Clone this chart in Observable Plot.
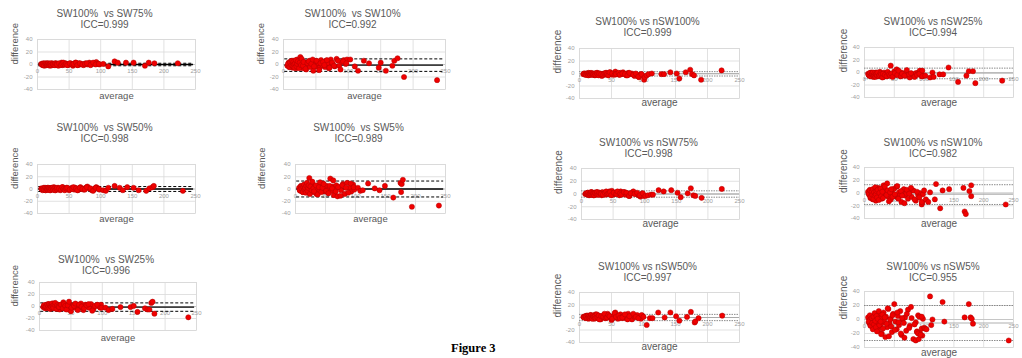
<!DOCTYPE html>
<html><head><meta charset="utf-8">
<script src="https://cdn.jsdelivr.net/npm/d3@7"></script>
<script src="https://cdn.jsdelivr.net/npm/@observablehq/plot@0.6"></script>
<style>
body{margin:0;background:#fff;overflow:hidden;}
#fig{position:relative;width:1022px;height:358px;overflow:hidden;background:#fff;font-family:"Liberation Sans",Arial,sans-serif;}
.panel{position:absolute;}
.panel svg{max-width:none !important;}
#caption{position:absolute;left:451px;top:341px;font:bold 12.5px "Liberation Serif","DejaVu Serif",serif;color:#000;}
</style></head><body><div id="fig"></div><div id="caption" style="position:absolute"></div>
<script>
// ---- shared tick labels ----
const xTicks = [0, 50, 100, 150, 200, 250];
const yTicks = [-40, -20, 0, 20, 40];

// ---- average values of the dense cluster (shared subjects) ----
const clusterAvg = [6,8,9,10,11,12,13,14,15,16,17,18,19,20,21,22,23,24,25,26,28,29,30,32,33,35,36,38,40,42,44,46,48,50,52,54,56,58,60,62,64,66,68,70,73,76,79,82,86,90,93,96,98];
const clusterAvg2 = [7,9,10,12,13,14,15,16,17,18,19,20,21,22,24,25,27,28,30,31,34,37,39,41,43,45,47,51,55,57,61,63,67,71,75,78,84,88,92,97];

// ---- titles ----
const titles = ["SW100%\u00a0 vs SW75%","SW100%\u00a0 vs SW10%","SW100%\u00a0 vs SW50%","SW100%\u00a0 vs SW5%","SW100%\u00a0 vs SW25%",
  "SW100% vs nSW100%","SW100% vs nSW25%","SW100% vs nSW75%","SW100% vs nSW10%","SW100% vs nSW50%","SW100% vs nSW5%"];
const iccs = ["ICC=0.999","ICC=0.992","ICC=0.998","ICC=0.989","ICC=0.996","ICC=0.999","ICC=0.994","ICC=0.998","ICC=0.982","ICC=0.997","ICC=0.955"];

// ---- differences of the cluster, per comparison ----
const sw75Cluster = [1,-1,2,0,-2,1,0,-1,2,1,-1,0,1,-2,0,1,2,-1,0,1,-1,2,0,1,-2,0,1,3,-1,0,2,1,-1,0,2,1,-2,0,3,1,-1,2,0,1,-1,2,0,3,1,2,4,1,0];
const sw10Cluster = [-2,3,-4,1,5,-3,2,-5,6,0,-2,4,-6,3,8,-1,2,-4,5,12,-3,1,-6,4,2,-8,3,0,6,-2,4,-10,1,-3,5,2,-5,7,-1,3,-4,6,2,-6,8,1,-3,9,-2,4,7,1,8];
const sw50Cluster = [1,-2,0,2,-1,1,-2,0,1,2,-1,0,1,-2,1,2,0,-1,1,3,-2,0,1,-1,2,0,-2,1,3,0,-1,2,1,-2,0,2,1,-1,2,0,-2,1,3,0,-1,2,4,1,-2,0,3,1,-1];
const sw5Cluster = [2,-3,5,-1,4,-5,1,3,-2,6,0,-4,8,2,-6,3,18,-2,5,-3,1,7,-5,2,4,-8,0,6,-3,3,-1,9,-4,2,5,-6,1,17,-3,4,-10,2,6,-12,3,-2,8,-8,10,2,-4,7,-1];
const sw25Cluster = [-1,2,-3,1,3,-2,0,4,-1,2,-4,1,3,-2,5,0,-3,2,-1,4,-2,1,3,-5,0,2,-3,7,1,-4,2,-1,3,-8,0,2,-2,4,1,-3,2,5,-1,-6,3,0,-2,4,-4,1,2,-1,3];
const nsw100Cluster = [-1,0,-2,-1,0,-2,-1,1,-1,0,-2,-1,0,-1,-2,0,-1,-3,0,-1,1,-2,-1,0,-2,-4,-1,0,-2,1,-1,0,2,-1,-2,0,3,-1,0,-2,1,-1,2,0,-3,1,-1,0,-4,-2,-6,-1,-3];
const nsw25Cluster = [-2,-5,-1,-4,0,-6,-3,-2,-7,-1,-4,-3,0,-5,-2,-6,-1,-3,-4,1,-5,-2,-3,-7,0,-4,-2,-6,-1,-3,11,-5,-2,2,-4,5,-1,-3,-6,0,-2,-4,-1,-5,-3,-8,-2,-4,-1,0,3,-6,-5];
const nsw75Cluster = [0,1,-1,2,0,-2,1,0,-1,3,0,1,-2,2,0,-1,1,3,0,-1,2,0,1,-2,3,0,1,-1,2,0,4,1,5,-1,2,0,3,1,-2,4,0,2,3,-1,1,-3,2,4,0,-2,-4,1,-3];
const nsw10Cluster = [2,-3,5,-8,0,-4,3,-10,-2,1,-6,4,-12,-1,2,-5,8,-3,0,-7,3,-9,-2,12,5,-1,-4,15,-6,2,-10,4,-2,7,-5,10,-8,1,-3,-14,3,6,-4,-1,-9,2,-6,4,-12,-3,0,-18,-2];
const nsw50Cluster = [1,0,2,-1,3,0,1,-2,2,0,4,1,-1,2,0,3,-2,1,5,0,2,-1,3,1,-3,0,2,4,-1,1,6,0,2,-4,1,3,8,0,-2,2,5,1,-1,3,0,6,2,-3,1,4,0,-2,3];
const nsw5Cluster = [3,-5,0,-8,4,-2,-10,1,-6,5,-3,-12,2,-7,8,-4,-15,0,6,-9,3,-20,-5,10,-2,-25,4,-11,15,-6,1,-18,8,22,-3,-14,5,-8,12,-22,0,-5,3,-16,14,-9,2,-28,-4,6,-19,-13,1];

// ---- differences of the second cluster group (at clusterAvg2) ----
const sw75Cluster2 = [0,1,-1,2,0,1,-1,0,2,-1,1,0,2,-1,1,0,-1,2,1,0,2,-1,1,3,0,1,-1,2,0,1,3,-1,2,0,1,2,-1,3,0,1];
const sw10Cluster2 = [1,-4,3,-1,6,-2,4,0,-5,2,7,-3,1,5,-6,3,-1,9,-2,4,-7,2,5,-4,1,8,-3,6,-9,2,4,-1,7,-5,3,-2,6,-8,5,2];
const sw50Cluster2 = [0,1,-1,2,-2,1,0,-1,2,0,1,-2,1,0,2,-1,1,-2,0,2,1,-1,3,0,-2,1,2,-1,0,3,1,-2,2,0,-1,3,1,-3,2,0];
const sw5Cluster2 = [-2,4,1,-5,3,7,-1,2,-6,5,10,-3,2,6,-8,4,-2,12,1,-4,6,-9,3,11,-5,2,8,-3,-7,5,1,14,-4,3,-11,6,2,-6,9,3];
const sw25Cluster2 = [2,-1,0,3,-2,1,4,-3,2,0,-1,5,1,-2,3,6,-4,2,0,-1,3,-3,4,1,-5,2,8,-2,1,5,-6,3,0,-3,2,4,-7,1,3,-2];
const nsw100Cluster2 = [0,-1,-2,0,-1,-3,0,-1,-2,1,-1,0,-2,-1,0,-2,1,-1,-3,0,-1,-2,0,1,-1,-3,2,0,-2,-1,1,-2,0,-1,-3,1,-2,0,-5,-1];
const nsw25Cluster2 = [-4,-1,-6,-3,-2,0,-5,-4,-1,-7,-3,-2,-5,0,-6,-4,-1,-3,-8,-2,-4,-6,1,-3,-5,-2,-7,-1,-4,3,-6,-2,-5,4,-3,-1,-7,-4,-2,-6];
const nsw75Cluster2 = [1,0,2,-1,1,0,3,-1,2,0,1,-2,2,1,0,3,-1,2,1,0,-1,2,4,0,1,3,-2,2,0,4,1,-1,3,2,-3,1,0,2,-2,1];
const nsw10Cluster2 = [-1,4,-6,2,-3,6,-9,1,-4,9,-2,3,-7,5,-11,0,7,-5,2,-8,10,-3,4,-13,1,6,-6,-2,11,-9,3,-4,-16,5,-1,8,-10,2,-7,-15];
const nsw50Cluster2 = [0,2,1,-1,3,0,2,-1,1,4,0,-2,3,1,2,-1,5,0,3,-3,2,1,6,-1,0,4,2,-2,7,1,3,-1,0,5,-3,2,6,1,-1,4];
const nsw5Cluster2 = [-3,6,-9,2,-5,-14,4,-7,9,-2,-11,5,-17,1,12,-8,-3,-21,7,-13,3,-6,16,-24,0,-10,6,-15,10,-4,-20,2,-26,8,-12,18,-7,-17,4,-23];

// ---- sparse high-average points [average, difference] ----
const sw75Tail = [[104,1],[112,-3],[122,5],[127,3],[140,3],[152,3],[170,-2],[176,3],[185,2],[222,2]];
const sw10Tail = [[103,8],[110,-3],[115,-10],[124,6],[132,2],[147,-5],[150,3],[158,-10],[168,-2],[171,6],[176,10],[186,-20],[237,-25]];
const sw50Tail = [[104,-2],[108,-3],[112,2],[122,5],[130,2],[135,-2],[142,3],[152,2],[160,-2],[172,-3],[177,1],[182,3],[184,5],[230,-3]];
const sw5Tail = [[104,2],[108,-3],[112,-2],[121,9],[132,1],[140,-2],[149,5],[163,-14],[175,10],[176,-5],[177,8],[179,15],[194,-29],[239,-27]];
const sw25Tail = [[99,-2],[105,-2],[110,-6],[116,-4],[129,-1],[145,-1],[150,1],[156,-9],[168,-3],[172,-5],[175,-5],[178,6],[180,8],[183,-12],[237,-18]];
const nsw100Tail = [[101,-10],[102,-6],[105,-3],[108,-1],[113,0],[128,-1],[132,-1],[142,2],[152,0],[156,-8],[166,2],[173,6],[176,-1],[179,-3],[190,-10],[222,5]];
const nsw25Tail = [[97,3],[102,-5],[110,-8],[114,0],[116,-7],[126,-3],[132,-3],[141,8],[157,-15],[171,-5],[175,2],[182,2],[186,-17],[231,-13]];
const nsw75Tail = [[101,-3],[105,-2],[110,-1],[113,-1],[122,6],[130,4],[142,6],[152,2],[157,-5],[168,1],[173,9],[177,-2],[180,-3],[190,-6],[222,8]];
const nsw10Tail = [[96,-14],[100,4],[103,-10],[107,-14],[110,1],[118,-10],[120,14],[127,-24],[131,4],[142,6],[166,8],[168,-29],[170,-33],[176,3],[179,-5],[179,12],[237,-18]];
const nsw50Tail = [[100,1],[105,-12],[110,-1],[114,-1],[123,8],[133,0],[142,8],[151,2],[156,-5],[168,1],[174,9],[180,-8],[181,-6],[186,-1],[223,3]];
const nsw5Tail = [[86,-30],[88,-18],[90,-20],[91,-28],[94,-22],[96,4],[100,-12],[102,-13],[104,-14],[110,33],[112,-8],[114,0],[131,25],[134,-3],[168,3],[175,22],[178,3],[180,1],[182,-6],[242,-30]];

// ---- mean / limits of agreement lines ----
const sw75Lines = [0, 2, -2];
const sw10Lines = [-1, 9, -11];
const sw50Lines = [0, 4, -4];
const sw5Lines = [0, 13, -13];
const sw25Lines = [-1, 6, -8];
const nsw100Lines = [-0.5, 3, -4];
const nsw25Lines = [-1, 7, -10];
const nsw75Lines = [0, 5, -5];
const nsw10Lines = [-2, 13, -18];
const nsw50Lines = [0, 5, -5];
const nsw5Lines = [-5, 20, -30];

const panels = [
  {i:0, c:sw75Cluster, c2:sw75Cluster2, t:sw75Tail, l:sw75Lines, g:"L", f:[37,195,39,89], avgY:98, labX:14, tdy:-30, tdx:-12},
  {i:1, c:sw10Cluster, c2:sw10Cluster2, t:sw10Tail, l:sw10Lines, g:"L", f:[283,445,39,89], avgY:98, labX:260, tdy:-30, tdx:-12},
  {i:2, c:sw50Cluster, c2:sw50Cluster2, t:sw50Tail, l:sw50Lines, g:"L", f:[37,195,164,213], avgY:221, labX:14, tdy:-41, tdx:-12},
  {i:3, c:sw5Cluster, c2:sw5Cluster2, t:sw5Tail, l:sw5Lines, g:"L", f:[295,445,164,213], avgY:221, labX:261, tdy:-41, tdx:-12},
  {i:4, c:sw25Cluster, c2:sw25Cluster2, t:sw25Tail, l:sw25Lines, g:"L", f:[39,196,282,330], avgY:340, labX:14, tdy:-27, tdx:-12},
  {i:5, c:nsw100Cluster, c2:nsw100Cluster2, t:nsw100Tail, l:nsw100Lines, g:"R", f:[579,739,48,98], avgY:105, labX:557, tdy:-31, tdx:-12},
  {i:6, c:nsw25Cluster, c2:nsw25Cluster2, t:nsw25Tail, l:nsw25Lines, g:"R", f:[864,1013,47,97], avgY:105, labX:843, tdy:-30, tdx:-6},
  {i:7, c:nsw75Cluster, c2:nsw75Cluster2, t:nsw75Tail, l:nsw75Lines, g:"R", f:[581,739,168,219], avgY:226, labX:558, tdy:-30, tdx:-12},
  {i:8, c:nsw10Cluster, c2:nsw10Cluster2, t:nsw10Tail, l:nsw10Lines, g:"R", f:[864,1013,167,218], avgY:226, labX:843, tdy:-29, tdx:-6},
  {i:9, c:nsw50Cluster, c2:nsw50Cluster2, t:nsw50Tail, l:nsw50Lines, g:"R", f:[579,739,292,342], avgY:349, labX:557, tdy:-30, tdx:-12},
  {i:10, c:nsw5Cluster, c2:nsw5Cluster2, t:nsw5Tail, l:nsw5Lines, g:"R", f:[864,1013,291,347], avgY:355, labX:843, tdy:-29, tdx:-6}
];

const fig = document.getElementById("fig");
const FONT = "Liberation Sans, Arial, sans-serif";
const ML = 46, MR = 8, MT = 46, MB = 22;

for (const p of panels) {
  const [fx0, fx1, fy0, fy1] = p.f;
  const fw = fx1 - fx0, fh = fy1 - fy0;
  const pts = p.c.map((d, k) => ({a: clusterAvg[k], d}))
    .concat(p.c2.map((d, k) => ({a: clusterAvg2[k], d})))
    .concat(p.t.map(([a, d]) => ({a, d})));
  const left = p.g === "L";
  const lineMarks = p.l.map((y, k) => {
    if (left) {
      return Plot.ruleY([y], {x1: 2, x2: 247, stroke: "#000", strokeWidth: k === 0 ? 1.3 : 1, strokeDasharray: k === 0 ? null : "3,2"});
    }
    return Plot.ruleY([y], {stroke: k === 0 ? "#a6a6a6" : "#7f7f7f", strokeWidth: 0.9, strokeDasharray: k === 0 ? null : "1.5,1"});
  });
  const tickFill = "#a0a0a0";
  const W = ML + fw + MR;
  const chart = Plot.plot({
    width: W,
    height: MT + fh + MB,
    marginLeft: ML, marginRight: MR, marginTop: MT, marginBottom: MB,
    x: {domain: [0, 250], axis: null},
    y: {domain: [-40, 40], axis: null},
    style: {fontFamily: FONT, background: "transparent", overflow: "visible"},
    marks: [
      Plot.gridX(xTicks, {stroke: "#d9d9d9", strokeOpacity: 1, strokeWidth: 0.8}),
      Plot.gridY(yTicks, {stroke: "#d9d9d9", strokeOpacity: 1, strokeWidth: 0.8}),
      Plot.frame({stroke: "#d9d9d9", strokeWidth: 0.8}),
      Plot.ruleY([0], {stroke: "#bfbfbf", strokeWidth: 0.8}),
      Plot.text(yTicks, {frameAnchor: "left", y: d => d, text: d => String(d), dx: -5, textAnchor: "end", fontSize: 6, fill: tickFill}),
      Plot.text(xTicks, {x: d => d, y: 0, text: d => String(d), dy: 7, fontSize: 6, fill: tickFill}),
      ...lineMarks,
      Plot.dot(pts, {x: "a", y: "d", r: 2.6, fill: "#f00000", stroke: "#b00000", strokeWidth: 0.5}),
      Plot.text([titles[p.i]], {frameAnchor: "top", dy: p.tdy, dx: p.tdx, fontSize: 10, fill: "#595959"}),
      Plot.text([iccs[p.i]], {frameAnchor: "top", dy: p.tdy + 11, dx: p.tdx, fontSize: 10, fill: "#595959"}),
      Plot.text(["difference"], {frameAnchor: "left", dx: -(fx0 - p.labX), rotate: -90, fontSize: left ? 9.5 : 10, fill: "#595959"}),
      Plot.text(["average"], {frameAnchor: "bottom", dy: p.avgY - fy1, fontSize: left ? 9.5 : 10, fill: "#595959"})
    ]
  });
  chart.style.maxWidth = "none";
  const div = document.createElement("div");
  div.className = "panel";
  div.style.left = (fx0 - ML) + "px";
  div.style.top = (fy0 - MT) + "px";
  div.style.width = W + "px";
  div.appendChild(chart);
  fig.appendChild(div);
}
const cap = document.getElementById("caption");
cap.textContent = "Figure 3";
fig.appendChild(cap);
</script></body></html>
